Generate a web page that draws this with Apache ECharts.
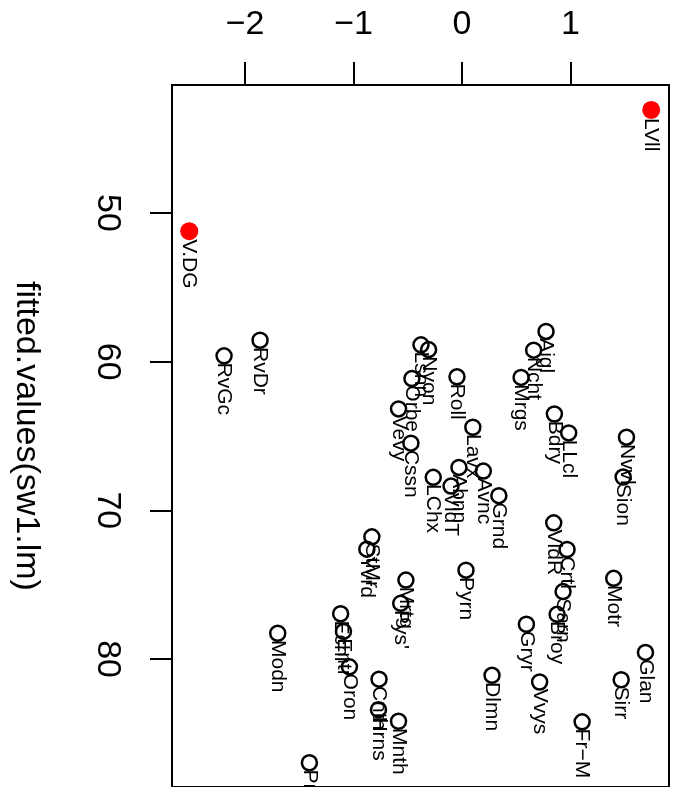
<!DOCTYPE html>
<html>
<head>
<meta charset="utf-8">
<script src="https://cdn.jsdelivr.net/npm/echarts@6/dist/echarts.min.js"></script>
<style>
html,body{margin:0;padding:0;background:#fff;}
#chart{width:679px;height:787px;}
</style>
</head>
<body>
<div id="chart"></div>
<script>
// Province abbreviations (swiss data)
const labels = ["Crtl","Dlmn","Fr−M","Motr","Nvvl","Prrn","Broy","Glan","Gryr","Sarn","Vvys",
  "Aigl","Abnn","Avnc","Cssn","Echl","Grnd","Lsnn","LVll","Lavx","Mrgs","Modn","Nyon","Orbe",
  "Oron","Pyrn","Pys'","Roll","Vevy","Yvrd","Cnth","Entr","Hrns","Mrtg","Mnth","StMr","Sirr",
  "Sion","Bdry","LChx","LLcl","Ncht","VldR","VldT","V.DG","RvDr","RvGc"];
// horizontal (top) axis values
const residualValues = [0.969,0.277,1.108,1.399,1.517,-1.407,0.877,1.692,0.594,0.932,0.716,
  0.775,-0.028,0.197,-0.471,-1.119,0.340,-0.378,1.745,0.100,0.545,-1.699,-0.308,-0.462,
  -1.038,0.037,-0.565,-0.046,-0.585,-0.877,-0.765,-1.093,-0.770,-0.517,-0.585,-0.831,1.468,
  1.486,0.852,-0.265,0.984,0.661,0.846,-0.101,-2.515,-1.862,-2.194];
// vertical (left) axis values: fitted.values(sw1.lm)
const fittedValues = [72.63,81.09,84.22,74.57,65.08,86.97,76.99,79.55,77.66,75.46,81.54,
  57.97,67.11,67.36,65.48,76.95,69.01,58.87,43.08,64.41,61.06,78.26,59.19,61.14,
  80.52,74.02,76.25,61.02,63.18,72.61,81.35,78.14,83.40,74.69,84.18,71.78,81.39,
  67.76,63.52,67.78,64.79,59.23,70.84,68.37,51.23,58.56,59.61];
const highlighted = ["V.DG","LVll"];
const xTicks = [-2,-1,0,1];
const yTicks = [50,60,70,80];
const yAxisTitle = "fitted.values(sw1.lm)";

const normalPts = [], redPts = [];
labels.forEach((n,i)=>{
  const p = {name:n, value:[residualValues[i], fittedValues[i]]};
  (highlighted.includes(n) ? redPts : normalPts).push(p);
});

const FONT = "'Liberation Sans', Arial, Helvetica, sans-serif";
const labelCfg = (sz) => ({
  show:true,
  formatter: p => p.name,
  position:['50%', sz/2 + 8],
  rotate:-90,
  align:'left',
  verticalAlign:'middle',
  color:'#000',
  opacity:1,
  fontSize:21,
  fontFamily:FONT
});

const chart = echarts.init(document.getElementById('chart'), null, {renderer:'canvas'});
chart.setOption({
  backgroundColor:'#fff',
  animation:false,
  grid:{left:172, top:85, width:497, height:704, show:true, borderColor:'#000', borderWidth:2, backgroundColor:'transparent'},
  xAxis:{
    type:'value', position:'top', min:-2.674, max:1.909,
    axisLine:{show:false, onZero:false},
    splitLine:{show:false},
    axisTick:{show:true, length:23, lineStyle:{color:'#000', width:2}, customValues:xTicks},
    axisLabel:{show:true, margin:43, color:'#000', fontSize:34, fontFamily:FONT,
      customValues:xTicks, formatter: v => String(v).replace('-', '\u2212')}
  },
  yAxis:{
    type:'value', inverse:true, min:41.4, max:88.6, position:'left',
    name:yAxisTitle, nameLocation:'middle', nameRotate:-90, nameGap:129,
    nameTextStyle:{color:'#000', fontSize:34, fontFamily:FONT},
    axisLine:{show:false, onZero:false},
    splitLine:{show:false},
    axisTick:{show:true, length:22, lineStyle:{color:'#000', width:2}, customValues:yTicks},
    axisLabel:{show:true, rotate:-90, margin:48, color:'#000', fontSize:34, fontFamily:FONT,
      customValues:yTicks}
  },
  series:[
    {type:'scatter', data:normalPts, symbol:'circle', symbolSize:15,
     itemStyle:{color:'rgba(0,0,0,0)', borderColor:'#000', borderWidth:2.5, opacity:1},
     label:labelCfg(15), emphasis:{disabled:true}},
    {type:'scatter', data:redPts, symbol:'circle', symbolSize:18,
     itemStyle:{color:'#ff0000', borderWidth:0, opacity:1},
     label:labelCfg(18), emphasis:{disabled:true}}
  ]
});
</script>
</body>
</html>
